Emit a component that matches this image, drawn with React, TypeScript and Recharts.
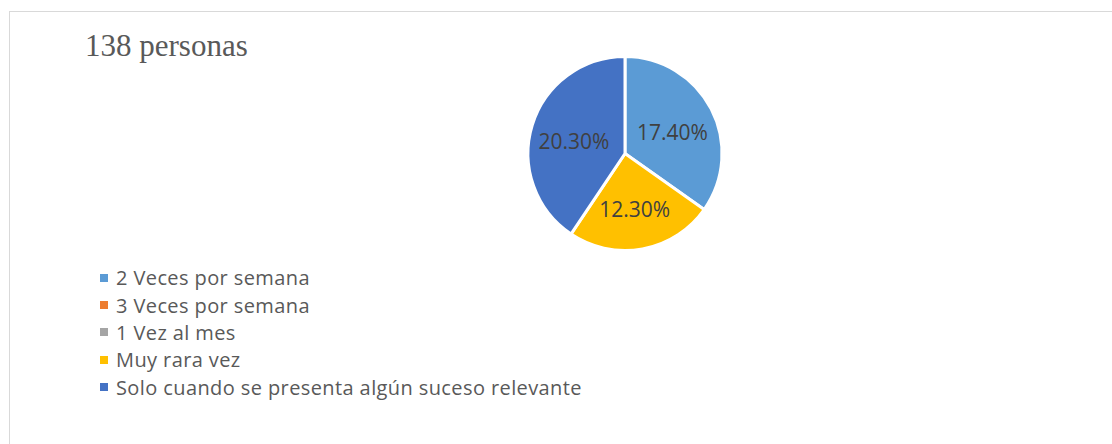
import React from 'react';
import { PieChart, Pie, Cell } from 'recharts';

const categories = [
  '2 Veces por semana',
  '3 Veces por semana',
  '1 Vez al mes',
  'Muy rara vez',
  'Solo cuando se presenta algún suceso relevante',
];
const values = [17.4, 0, 0, 12.3, 20.3];
const colors = ['#5B9BD5', '#ED7D31', '#A5A5A5', '#FFC000', '#4472C4'];
const title = '138 personas';

const data = categories.map((name, i) => ({ name, value: values[i] }));

const RAD = Math.PI / 180;

const renderLabel = (props: any) => {
  const { cx, cy, midAngle, outerRadius, value } = props;
  if (!value) return null;
  const r = outerRadius * 0.55;
  const x = cx + r * Math.cos(-midAngle * RAD);
  const y = cy + r * Math.sin(-midAngle * RAD) + 3;
  return (
    <text
      x={x}
      y={y}
      fill="#404040"
      fontSize={21}
      fontFamily="'Open Sans', sans-serif"
      textAnchor="middle"
      dominantBaseline="central"
    >
      {value.toFixed(2)}%
    </text>
  );
};

const App: React.FC = () => {
  return (
    <div style={{ position: 'absolute', left: 0, top: 0, width: 1112, height: 444, background: '#fff', overflow: 'hidden' }}>
      <div
        style={{
          position: 'absolute',
          left: 9,
          top: 11,
          right: -2,
          bottom: -2,
          border: '1px solid #d9d9d9',
          borderRightWidth: 0,
          borderBottomWidth: 0,
        }}
      />
      <div
        style={{
          position: 'absolute',
          left: 85,
          top: 27,
          fontFamily: '"Liberation Serif", serif',
          fontSize: 31,
          color: '#595959',
          lineHeight: 1.2,
        }}
      >
        {title}
      </div>
      <PieChart width={1112} height={444} margin={{ top: 0, right: 0, bottom: 0, left: 0 }} style={{ position: 'absolute', left: 0, top: 0 }}>
        <Pie
          data={data}
          dataKey="value"
          nameKey="name"
          cx={625}
          cy={153.5}
          outerRadius={97}
          startAngle={90}
          endAngle={-270}
          stroke="#ffffff"
          strokeWidth={3}
          label={renderLabel}
          labelLine={false}
          isAnimationActive={false}
        >
          {data.map((d, i) => (
            <Cell key={d.name} fill={colors[i]} />
          ))}
        </Pie>
      </PieChart>
      <div
        style={{
          position: 'absolute',
          left: 100,
          top: 264,
          fontFamily: "'Open Sans', sans-serif",
          fontSize: 20,
          letterSpacing: 0.4,
          color: '#595959',
        }}
      >
        {categories.map((name, i) => (
          <div key={name} style={{ display: 'flex', alignItems: 'center', height: 27.4, whiteSpace: 'nowrap' }}>
            <span
              style={{
                display: 'inline-block',
                width: 8,
                height: 8,
                background: colors[i],
                marginRight: 8,
              }}
            />
            <span>{name}</span>
          </div>
        ))}
      </div>
    </div>
  );
};

export default App;
